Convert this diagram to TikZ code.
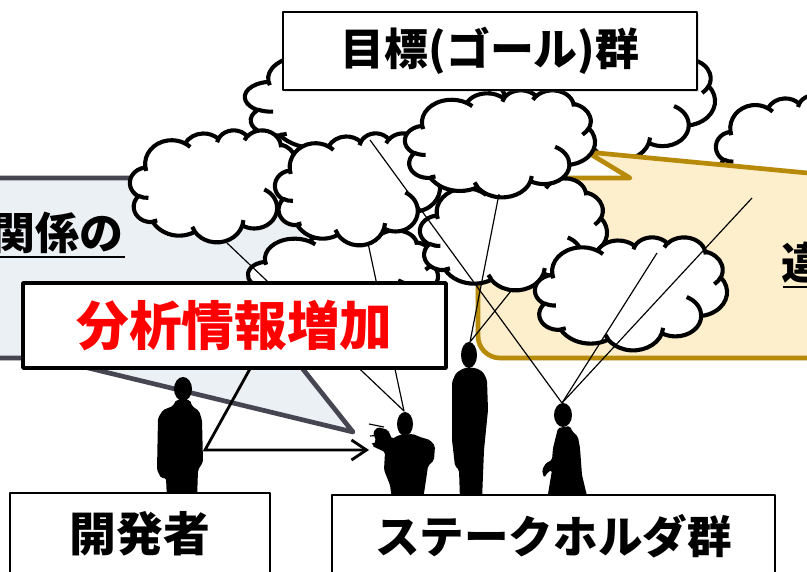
\documentclass[tikz,border=0pt]{standalone}
\usepackage{fontspec}
\setmainfont{Noto Sans CJK JP}
\usetikzlibrary{arrows.meta,shadows}
\definecolor{slate}{HTML}{464652}
\definecolor{slatepale}{HTML}{EBF0F5}
\definecolor{gold}{HTML}{B88A0A}
\definecolor{goldpale}{HTML}{FDEFCB}
\definecolor{alert}{HTML}{FF0000}

% cloud outline in a unit box, y pointing down
\tikzset{
 puffbody/.style={fill=white,draw=black,line width=3.5pt},
 puffline/.style={draw=black,line width=3.5pt,line cap=butt},
 puff/.pic={
  \path[puffbody] (0.0903,0.3326)
   arc[x radius=0.1563,y radius=0.2127,start angle=-187.75,delta angle=128.10]
   arc[x radius=0.1235,y radius=0.1682,start angle=-152.03,delta angle=106.58]
   arc[x radius=0.1010,y radius=0.1376,start angle=-153.49,delta angle=116.16]
   arc[x radius=0.1124,y radius=0.1527,start angle=-139.72,delta angle=129.51]
   arc[x radius=0.1235,y radius=0.1684,start angle=-74.77,delta angle=97.98]
   arc[x radius=0.1568,y radius=0.2134,start angle=-37.52,delta angle=119.38]
   arc[x radius=0.1339,y radius=0.1821,start angle=0.46,delta angle=121.52]
   arc[x radius=0.1563,y radius=0.2133,start angle=16.84,delta angle=129.40]
   arc[x radius=0.1787,y radius=0.2441,start angle=58.99,delta angle=91.19]
   arc[x radius=0.1009,y radius=0.1370,start angle=-276.70,delta angle=139.81]
   arc[x radius=0.1006,y radius=0.1376,start angle=-239.64,delta angle=143.75]
   -- cycle;
  \draw[puffline]
   (0.1086,0.6060) arc[x radius=0.1006,y radius=0.1376,start angle=85.54,delta angle=34.82]
   (0.1604,0.8079) arc[x radius=0.1009,y radius=0.1370,start angle=68.26,delta angle=15.04]
   (0.3814,0.9049) arc[x radius=0.1563,y radius=0.2133,start angle=146.24,delta angle=12.23]
   (0.6673,0.8044) arc[x radius=0.1563,y radius=0.2133,start angle=4.74,delta angle=12.10]
   (0.7900,0.5313) arc[x radius=0.1339,y radius=0.1821,start angle=-64.02,delta angle=64.48]
   (0.9676,0.3554) arc[x radius=0.1235,y radius=0.1684,start angle=23.21,delta angle=26.43]
   (0.8871,0.1256) arc[x radius=0.1124,y radius=0.1527,start angle=-10.21,delta angle=11.03]
   (0.6731,0.0915) arc[x radius=0.1124,y radius=0.1527,start angle=-156.28,delta angle=16.56]
   (0.5125,0.1093) arc[x radius=0.1010,y radius=0.1376,start angle=-167.72,delta angle=14.23]
   (0.3241,0.1202) arc[x radius=0.1563,y radius=0.2127,start angle=-59.65,delta angle=13.92]
   (0.0955,0.3655) arc[x radius=0.1563,y radius=0.2127,start angle=163.19,delta angle=9.06];
 }
}

\begin{document}
\begin{tikzpicture}[x=0.03cm,y=-0.03cm,line join=round,
 >={Straight Barb[length=4.5mm,width=6mm]},
 speech/.style={line width=4pt,drop shadow={opacity=0.2,shadow xshift=2pt,shadow yshift=-2pt}},
 plate/.style={draw=black,fill=white,inner sep=0pt,font=\bfseries\fontsize{37.5}{40}\selectfont},
 big/.style={font=\bfseries\fontsize{37.5}{40}\selectfont},
 string/.style={line width=1pt},
 person/.style={fill=black,rounded corners=1.5pt},
 pointer/.style={->,line width=2.4pt,line join=miter}]
 \useasboundingbox[fill=white] (0,0) rectangle (807,572);

 % clouds at the back
 \pic[xscale=260,yscale=110] at (245,45) {puff};
 \pic[xscale=195,yscale=115] at (520,45) {puff};
 \pic[xscale=160,yscale=110] at (716,95) {puff};

 % the two speech bubbles
 \draw[speech,draw=gold,fill=goldpale] (478,178) -- (630,178) -- (587,152) -- (860,178) -- (930,178)
   -- (930,358) -- (500,358) arc[radius=22,start angle=90,end angle=180] -- cycle;
 \draw[speech,draw=slate,fill=slatepale] (-60,178) -- (395,178) -- (395,358) -- (294,358)
   -- (353,432) -- (47,358) -- (-60,358) -- cycle;
 \node[big,anchor=east,inner sep=0pt] (relate) at (124,233) {関係の};
 \draw[line width=2pt] (-5,257) -- (125,257);
 \node[big,anchor=west,inner sep=0pt] (differ) at (781,263) {違};
 \draw[line width=2pt] (783,287) -- (830,287);

 % clouds in front
 \pic[xscale=190,yscale=95] at (248,230) {puff};
 \pic[xscale=170,yscale=112] at (130,130) {puff};
 \pic[xscale=187,yscale=112] at (420,178) {puff};
 \pic[xscale=165,yscale=112] at (275,133) {puff};
 \pic[xscale=190,yscale=107] at (405,90) {puff};
 \pic[xscale=192,yscale=113] at (535,237) {puff};

 \node[plate,line width=1.3pt,minimum width=12.42cm,minimum height=2.34cm,
   drop shadow={opacity=0.2,shadow xshift=2pt,shadow yshift=-2pt}] (goals) at (490,51) {目標(ゴール)群};

 % strings from clouds to heads
 \coordinate (c2foot) at (227,243);
 \coordinate (c3foot) at (368,243);
 \coordinate (c3top) at (370,140);
 \coordinate (c4foot) at (499,194);
 \coordinate (c5foot) at (511,291);
 \coordinate (c6in) at (657,253);
 \coordinate (ccin) at (752,198);
 \coordinate (headA) at (404,411);
 \coordinate (headB) at (470,342);
 \coordinate (headC) at (562,403);
 \draw[string] (c2foot) -- (headA) -- (c3foot);
 \draw[string] (c4foot) -- (headB) -- (c5foot);
 \draw[string] (c3top) -- (headC) -- (c6in);
 \draw[string] (headC) -- (ccin);

 % developer's pointer
 \coordinate (under) at (256,358);
 \coordinate (hand) at (205,450);
 \coordinate (aim) at (369,450);
 \draw[pointer] (under) -- (hand) -- (aim);

 \node[plate,line width=3pt,text=alert,minimum width=12.69cm,minimum height=2.55cm,
   font=\bfseries\fontsize{45}{48}\selectfont,
   drop shadow={opacity=0.2,shadow xshift=2pt,shadow yshift=-2pt}] (gain) at (234.5,325.5) {分析情報増加};

 % people
 \fill (183,389) ellipse[x radius=9,y radius=12];
 \fill[person] (176,400) -- (173,406) -- (163,410) -- (158,418) -- (157,470) -- (161,478) -- (166,478)
   -- (167,500) -- (197,500) -- (198,470) -- (203,462) -- (202,420) -- (199,411) -- (192,406) -- (190,400) -- cycle;
 \fill (405,424) ellipse[x radius=8,y radius=12];
 \fill[person] (399,435) -- (392,439) -- (388,430) -- (378,427) -- (373,432) -- (376,441) -- (372,446)
   -- (385,452) -- (384,470) -- (390,485) -- (392,500) -- (423,500) -- (426,480) -- (428,466) -- (434,460)
   -- (435,446) -- (430,440) -- (420,437) -- (413,434) -- cycle;
 \draw[line width=1pt] (369,424) -- (384,427) (370,436) -- (383,435) (372,444) -- (384,441);
 \fill (469,355) ellipse[x radius=8,y radius=13];
 \fill[person] (464,368) -- (456,373) -- (452,382) -- (452,440) -- (455,466) -- (459,470) -- (460,500)
   -- (482,500) -- (484,450) -- (488,410) -- (487,380) -- (483,372) -- (476,368) -- cycle;
 \fill (563,415) ellipse[x radius=9,y radius=12];
 \fill[person] (558,428) -- (556,436) -- (553,448) -- (552,460) -- (546,463) -- (542,470) -- (544,478)
   -- (548,472) -- (552,470) -- (547,500) -- (588,500) -- (582,475) -- (580,448) -- (578,437) -- (572,431)
   -- (570,426) -- cycle;

 \node[plate,line width=1.5pt,minimum width=7.8cm,minimum height=2.46cm,
   font=\bfseries\fontsize{40}{42}\selectfont] (dev) at (140,534) {開発者};
 \node[plate,line width=1.5pt,minimum width=13.29cm,minimum height=2.46cm,
   font=\bfseries\fontsize{38}{40}\selectfont] (holders) at (553.5,536) {ステークホルダ群};
\end{tikzpicture}
\end{document}
